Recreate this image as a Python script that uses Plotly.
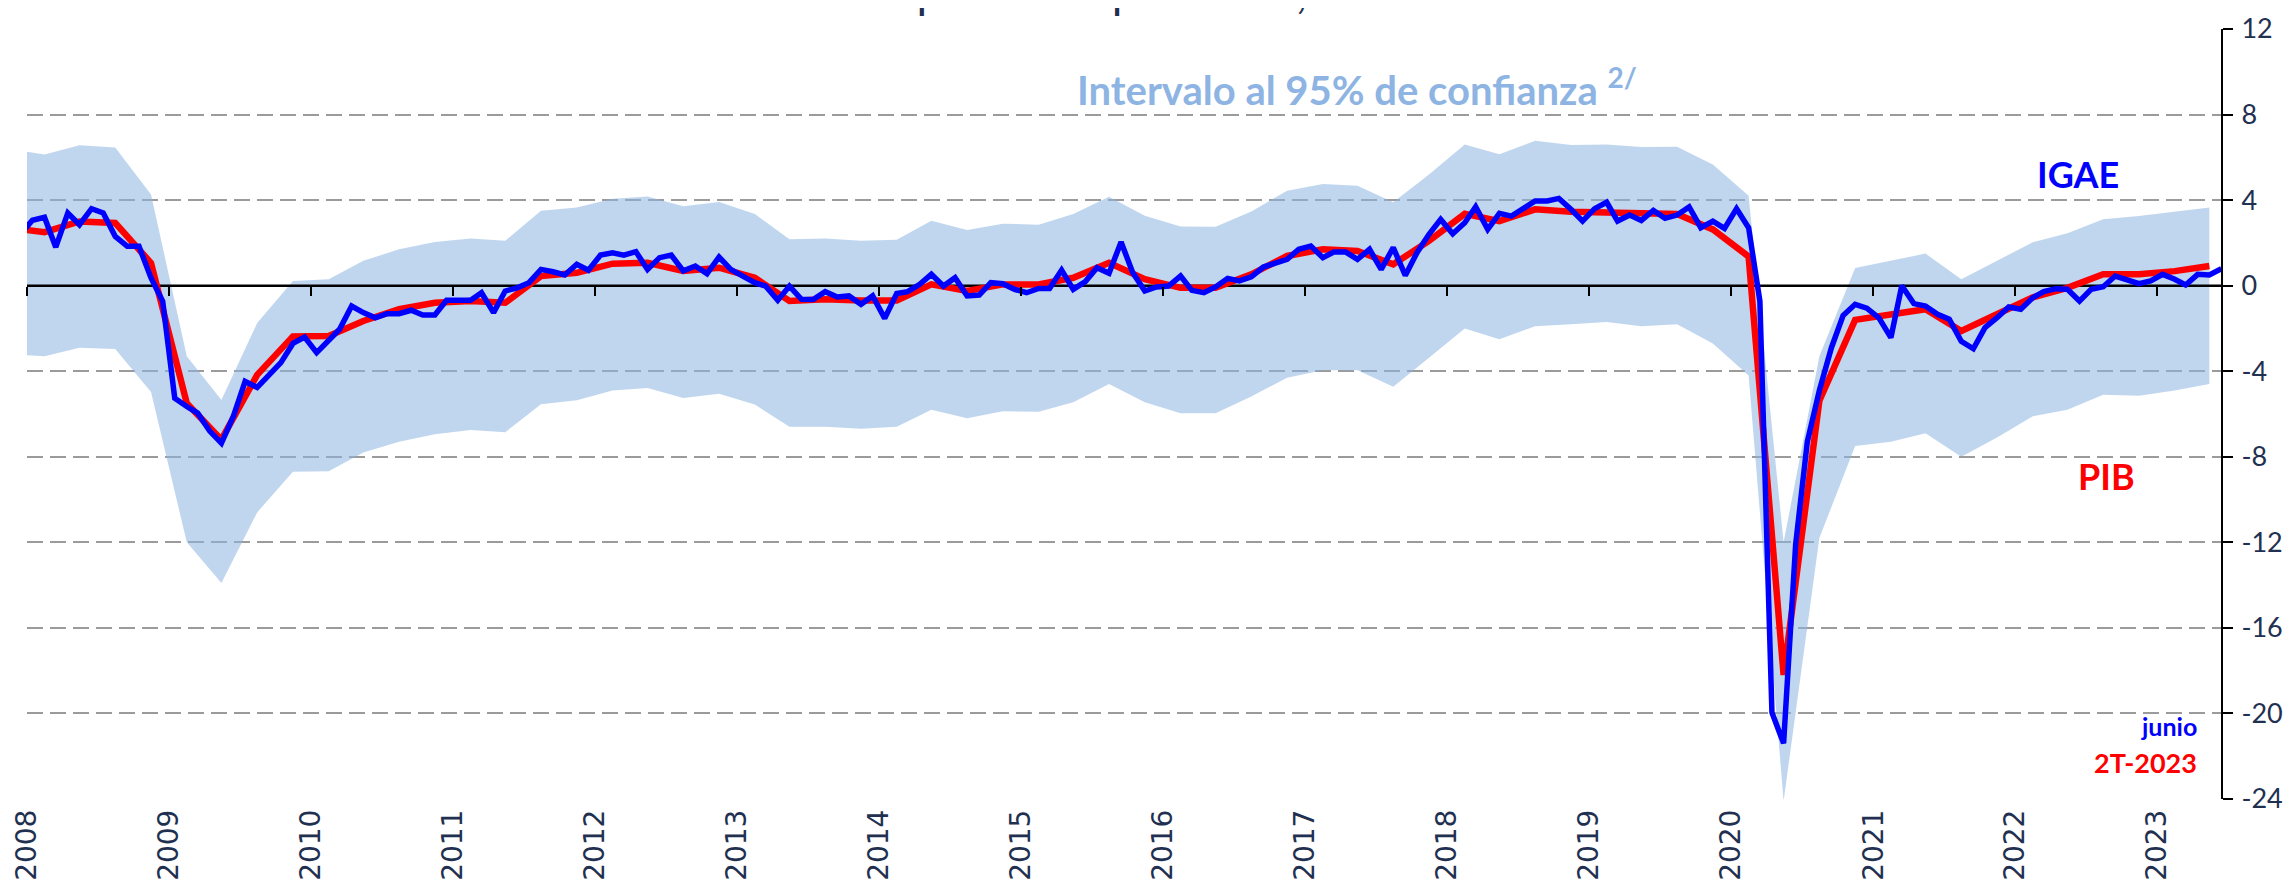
import pandas as pd
import plotly.graph_objects as go

NAVY = "#1F3050"
BLUE = "#0000FF"
RED = "#FF0000"
BAND_FILL = "rgba(141,180,226,0.55)"
BAND_TEXT = "#8DB4E2"
GRID = "#9B9B9B"

X_START = "2008-01-01"
X_END = "2023-06-14"

# IGAE, monthly, Dec-2007 .. Jun-2023
igae_first_month = "2007-12-01"
igae = [
    2.4,
    3.06, 3.2, 1.8, 3.4, 2.85, 3.6, 3.4, 2.3, 1.84, 1.84, 0.36, -0.73,
    -5.26, -5.65, -5.96, -6.8, -7.36, -6.1, -4.48, -4.76, -4.17, -3.6, -2.7, -2.4,
    -3.13, -2.6, -2.04, -0.95, -1.26, -1.5, -1.31, -1.31, -1.15, -1.37, -1.37, -0.68,
    -0.68, -0.68, -0.33, -1.26, -0.25, -0.1, 0.14, 0.76, 0.65, 0.5, 1.0, 0.72,
    1.43, 1.54, 1.43, 1.59, 0.76, 1.31, 1.43, 0.69, 0.92, 0.56, 1.34, 0.76,
    0.45, 0.14, -0.02, -0.68, -0.02, -0.64, -0.65, -0.28, -0.53, -0.48, -0.87, -0.48,
    -1.53, -0.37, -0.28, 0.06, 0.53, -0.02, 0.37, -0.48, -0.44, 0.14, 0.09, -0.17,
    -0.33, -0.13, -0.13, 0.73, -0.17, 0.19, 0.84, 0.58, 2.04, 0.61, -0.25, -0.06,
    -0.02, 0.45, -0.22, -0.33, -0.06, 0.34, 0.22, 0.41, 0.87, 1.07, 1.23, 1.70,
    1.85, 1.31, 1.57, 1.57, 1.23, 1.70, 0.76, 1.78, 0.48, 1.54, 2.4, 3.1,
    2.43, 2.94, 3.69, 2.63, 3.38, 3.25, 3.6, 3.96, 3.96, 4.08, 3.57, 3.02,
    3.6, 3.9, 3.02, 3.3, 3.05, 3.52, 3.15, 3.3, 3.68, 2.71, 3.02, 2.68,
    3.6, 2.71, -0.72, -19.95, -21.4, -12.1, -7.3, -4.9, -2.9, -1.4, -0.87, -1.05,
    -1.5, -2.43, 0.0, -0.84, -0.95, -1.34, -1.57, -2.6, -2.95, -1.96, -1.5, -1.0,
    -1.1, -0.56, -0.28, -0.14, -0.17, -0.72, -0.17, -0.05, 0.45, 0.3, 0.09, 0.22,
    0.53, 0.3, 0.03, 0.53, 0.5, 0.79,
]

# PIB and 95% band, quarterly (placed mid-quarter), 4T-2007 .. 2T-2023
pib_first_month = "2007-11-01"
pib = [
    2.7,
    2.5, 3.0, 2.93, 1.06,
    -5.5, -7.2, -4.17, -2.37,
    -2.35, -1.65, -1.1, -0.8,
    -0.72, -0.8, 0.45, 0.6,
    1.03, 1.07, 0.69, 0.84,
    0.37, -0.72, -0.64, -0.69,
    -0.69, 0.06, -0.25, 0.06,
    0.06, 0.37, 1.07, 0.3,
    -0.1, -0.1, 0.53, 1.39,
    1.70, 1.62, 1.0, 2.09,
    3.36, 3.02, 3.57, 3.46,
    3.41, 3.4, 3.35, 2.63,
    1.36, -18.2, -5.38, -1.6,
    -1.34, -1.1, -2.12, -1.3,
    -0.55, -0.1, 0.53, 0.53,
    0.68, 0.92,
]
band_low = [
    -3.2,
    -3.3, -2.9, -2.96, -4.97,
    -12.0, -13.9, -10.6, -8.7,
    -8.68, -7.8, -7.3, -6.95,
    -6.75, -6.85, -5.54, -5.36,
    -4.9, -4.78, -5.25, -5.05,
    -5.56, -6.6, -6.6, -6.69,
    -6.6, -5.8, -6.2, -5.87,
    -5.9, -5.45, -4.6, -5.45,
    -5.96, -5.96, -5.18, -4.3,
    -3.95, -3.95, -4.73, -3.37,
    -2.0, -2.5, -1.9, -1.8,
    -1.7, -1.9, -1.8, -2.7,
    -4.2, -24.1, -11.8, -7.5,
    -7.3, -6.9, -8.0, -7.1,
    -6.1, -5.8, -5.1, -5.15,
    -4.9, -4.6,
]
band_high = [
    6.4,
    6.13, 6.57, 6.46, 4.26,
    -3.3, -5.34, -1.75, 0.22,
    0.3, 1.16, 1.7, 2.04,
    2.2, 2.1, 3.5, 3.65,
    4.06, 4.17, 3.71, 3.91,
    3.35, 2.17, 2.2, 2.1,
    2.15, 3.04, 2.6, 2.9,
    2.85, 3.35, 4.16, 3.27,
    2.77, 2.75, 3.47, 4.44,
    4.75, 4.67, 3.9, 5.2,
    6.6, 6.15, 6.77, 6.58,
    6.6, 6.48, 6.5, 5.67,
    4.2, -12.0, -3.3, 0.83,
    1.17, 1.5, 0.3, 1.17,
    2.03, 2.45, 3.1, 3.26,
    3.46, 3.65,
]

years = list(range(2008, 2024))
year_ticks = [f"{y}-01-01" for y in years]
y_ticks = list(range(-24, 13, 4))
y_labels = [str(v) for v in y_ticks]

igae_x = pd.date_range(igae_first_month, periods=len(igae), freq="MS") + pd.Timedelta(days=14)
pib_x = pd.date_range(pib_first_month, periods=len(pib), freq="3MS") + pd.Timedelta(days=14)

fig = go.Figure()

# confidence band
fig.add_trace(go.Scatter(x=pib_x, y=band_low, mode="lines", line=dict(width=0),
                         hoverinfo="skip", showlegend=False))
fig.add_trace(go.Scatter(x=pib_x, y=band_high, mode="lines", line=dict(width=0),
                         fill="tonexty", fillcolor=BAND_FILL, hoverinfo="skip", showlegend=False))

# zero line, drawn above the band but under the series
fig.add_trace(go.Scatter(x=[X_START, X_END], y=[0, 0], mode="lines",
                         line=dict(color="black", width=2.5), hoverinfo="skip", showlegend=False))

fig.add_trace(go.Scatter(x=pib_x, y=pib, mode="lines", name="PIB",
                         line=dict(color=RED, width=6.5), showlegend=False))
fig.add_trace(go.Scatter(x=igae_x, y=igae, mode="lines", name="IGAE",
                         line=dict(color=BLUE, width=5.5), showlegend=False))

# holder for the tick marks sitting on the zero line
fig.add_trace(go.Scatter(x=year_ticks, y=[None] * len(year_ticks), xaxis="x2",
                         mode="lines", hoverinfo="skip", showlegend=False))

fig.update_layout(
    width=2293, height=880,
    margin=dict(l=19, r=80, t=21, b=89),
    template="none",
    paper_bgcolor="white", plot_bgcolor="white",
    showlegend=False,
    font=dict(family="Lato, sans-serif", color=NAVY),
    xaxis=dict(
        type="date", range=[X_START, X_END],
        tickvals=year_ticks, ticktext=[str(y) for y in years], tickangle=-90,
        tickfont=dict(family="DejaVu Sans", size=28, color=NAVY),
        showgrid=False, showline=False, zeroline=False, ticks="",
        automargin=False, ticklabelstandoff=4,
    ),
    xaxis2=dict(
        type="date", overlaying="x", anchor="free", position=24 / 36,
        range=[X_START, X_END], tickvals=year_ticks, showticklabels=False,
        ticks="outside", ticklen=9, tickwidth=2, tickcolor="black",
        showline=False, showgrid=False, zeroline=False, automargin=False,
    ),
    yaxis=dict(
        range=[-24, 12], tickvals=y_ticks, ticktext=y_labels, side="right",
        showline=True, linecolor="black", linewidth=2,
        ticks="outside", ticklen=10, tickwidth=2, tickcolor="black",
        tickfont=dict(family="Lato", size=27, color=NAVY),
        showgrid=True, gridcolor=GRID, gridwidth=2, griddash="16px,7px",
        zeroline=False, automargin=False, ticklabelstandoff=3,
    ),
)

notes = [
    dict(text="<b>Intervalo al 95% de confianza <sup>2/</sup></b>", x=0.4775, y=9.3,
         xanchor="left", size=40, color=BAND_TEXT),
    dict(text="<b>IGAE</b>", x=0.935, y=5.2, xanchor="center", size=36, color=BLUE),
    dict(text="<b>PIB</b>", x=0.948, y=-8.9, xanchor="center", size=36, color=RED),
    dict(text="<b>junio</b>", x=0.990, y=-20.6, xanchor="right", size=25, color=BLUE),
    dict(text="<b>2T-2023</b>", x=0.990, y=-22.3, xanchor="right", size=27, color=RED),
]
for n in notes:
    fig.add_annotation(text=n["text"], x=n["x"], y=n["y"], xref="paper", yref="y",
                       xanchor=n["xanchor"], yanchor="middle", showarrow=False,
                       font=dict(family="Lato", size=n["size"], color=n["color"]))

# title sits above the page edge; only its descenders show
fig.add_annotation(text="Por ciento del producto potencial, a. e.", x=0.2726, y=1.0117,
                   xref="paper", yref="paper", xanchor="left", yanchor="bottom",
                   showarrow=False, font=dict(family="Lato", size=46, color=NAVY))

fig.write_html("out.html")
